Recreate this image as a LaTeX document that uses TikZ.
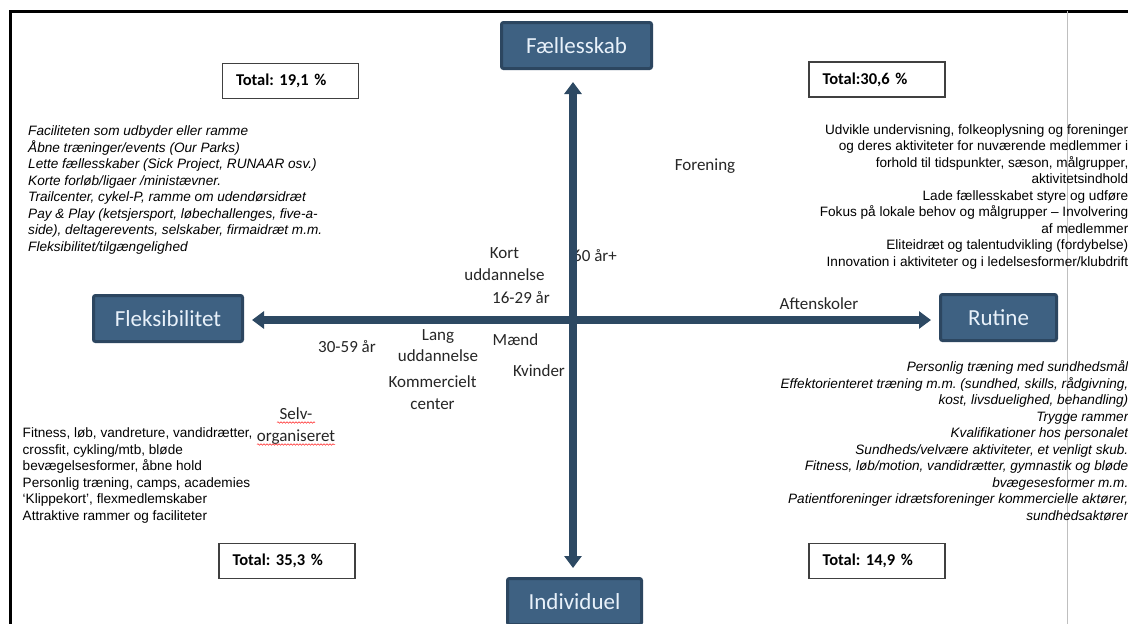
\documentclass[tikz,border=0pt]{standalone}
\usepackage{fontspec}
\setmainfont{Carlito}
\newfontfamily\arialfont{Liberation Sans}
\usetikzlibrary{arrows.meta,decorations.pathmorphing}
\definecolor{boxfill}{RGB}{62,97,130}
\definecolor{boxline}{RGB}{44,70,96}
\definecolor{axiscol}{RGB}{45,73,99}
\definecolor{boxtext}{RGB}{232,241,250}
\frenchspacing

\begin{document}
\begin{tikzpicture}[x=1pt,y=-1pt]
  \tikzstyle{pole}=[rectangle,draw=boxline,fill=boxfill,line width=3pt,rounded corners=2pt,text=boxtext,minimum height=46pt,font=\fontsize{23}{27}\selectfont]
  \tikzstyle{total}=[rectangle,draw=black!75,line width=1.3pt,fill=white,minimum height=35pt,inner xsep=13.5pt,text width=109pt,align=left,font=\bfseries\fontsize{16.5}{19}\selectfont]
  \tikzstyle{lbl}=[inner sep=0,align=center,text=black!85,font=\fontsize{17}{21.5}\selectfont]
  \tikzstyle{lst}=[inner sep=0,font=\arialfont\fontsize{13.6}{16.5}\selectfont]
  \tikzstyle{lsti}=[inner sep=0,font=\arialfont\itshape\fontsize{13.6}{16.5}\selectfont]
  \tikzstyle{axis}=[draw=axiscol,line width=8pt,{Triangle[width=17pt,length=12pt]}-{Triangle[width=17pt,length=12pt]}]
  \tikzstyle{squiggle}=[draw=red!85,line width=0.5pt,decorate,decoration={snake,amplitude=0.8pt,segment length=3pt}]
  \clip (0,0) rectangle (1128,624);
  \fill[white] (0,0) rectangle (1128,624);
  % frame
  \draw[line width=3pt] (10.5,624) -- (10.5,11) -- (1128,11);
  \draw[black!25,line width=0.8pt] (1067.5,11) -- (1067.5,624);

  % poles
  \node[pole,minimum width=150pt] (faelles) at (576.5,45.5)  {Fællesskab};
  \node[pole,minimum width=149pt] (flex)    at (168,318.5)   {Fleksibilitet};
  \node[pole,minimum width=116pt] (rutine)  at (998.5,317.5) {Rutine};
  \node[pole,minimum width=134pt] (indiv)   at (574.5,601.5) {Individuel};

  % totals
  \node[total] (tot1) at (290.5,81)  {Total: 19,1 \%};
  \node[total] (tot2) at (877,79.5)  {Total:30,6\ \%};
  \node[total] (tot3) at (287,561)   {Total: 35,3 \%};
  \node[total] (tot4) at (877,561)   {Total: 14,9 \%};

  % lists (anchored at the baseline of their last line)
  \node[lsti,anchor=base west,align=left] (fleksfaelles) at (28,251)
    {Faciliteten som udbyder eller ramme\\Åbne træninger/events (Our Parks)\\Lette fællesskaber (Sick Project, RUNAAR osv.)\\Korte forløb/ligaer /ministævner.\\Trailcenter, cykel-P, ramme om udendørsidræt\\Pay \& Play (ketsjersport, løbechallenges, five-a-\\side), deltagerevents, selskaber, firmaidræt m.m.\\Fleksibilitet/tilgængelighed};
  \node[lst,anchor=base east,align=right] (rutfaelles) at (1128.5,266)
    {Udvikle undervisning, folkeoplysning og foreninger\\og deres aktiviteter for nuværende medlemmer i\\forhold til tidspunkter, sæson, målgrupper,\\aktivitetsindhold\\Lade fællesskabet styre og udføre\\Fokus på lokale behov og målgrupper – Involvering\\af medlemmer\\Eliteidræt og talentudvikling (fordybelse)\\Innovation i aktiviteter og i ledelsesformer/klubdrift};
  \node[lsti,anchor=base east,align=right] (rutindiv) at (1128.5,520)
    {Personlig træning med sundhedsmål\\Effektorienteret træning m.m. (sundhed, skills, rådgivning,\\kost, livsduelighed, behandling)\\Trygge rammer\\Kvalifikationer hos personalet\\Sundheds/velvære aktiviteter, et venligt skub.\\Fitness, løb/motion, vandidrætter, gymnastik og bløde\\bvægesesformer m.m.\\Patientforeninger idrætsforeninger kommercielle aktører,\\sundhedsaktører};
  \node[lst,anchor=base west,align=left] (fleksindiv) at (22.5,520)
    {Fitness, løb, vandreture, vandidrætter,\\crossfit, cykling/mtb, bløde\\bevægelsesformer, åbne hold\\Personlig træning, camps, academies\\‘Klippekort’, flexmedlemskaber\\Attraktive rammer og faciliteter};

  % labels
  \node[lbl,anchor=base] (forening) at (705,170)       {Forening};
  \node[lbl,anchor=base] (kort)     at (504.5,280)     {Kort\\uddannelse};
  \node[lbl,anchor=base] (ung)      at (521,303)       {16-29 år};
  \node[lbl,anchor=base west] (aeldre) at (573,261)    {60 år+};
  \node[lbl,anchor=base] (aften)    at (819,309)       {Aftenskoler};
  \node[lbl,anchor=base] (midt)     at (347,352)       {30-59 år};
  \node[lbl,anchor=base] (lang)     at (438,361.5)     {Lang\\uddannelse};
  \node[lbl,anchor=base] (maend)    at (515.5,345)     {Mænd};
  \node[lbl,anchor=base] (kvinder)  at (539,376.5)     {Kvinder};
  \node[lbl,anchor=base] (kommerc)  at (432.5,409)     {Kommercielt\\center};
  \node[lbl,anchor=base,font=\fontsize{17}{22}\selectfont] (selv) at (296,441) {Selv-\\organiseret};
  \draw[squiggle] (277,422.5) -- (315,422.5);
  \draw[squiggle] (257,444.5) -- (335,444.5);

  % axes
  \coordinate (origin) at (573,320);
  \draw[axis,shorten <=8pt,shorten >=8pt] (flex.east |- origin) -- (rutine.west |- origin);
  \draw[axis,shorten <=12pt,shorten >=9pt] (faelles.south -| origin) -- (indiv.north -| origin);
\end{tikzpicture}
\end{document}
